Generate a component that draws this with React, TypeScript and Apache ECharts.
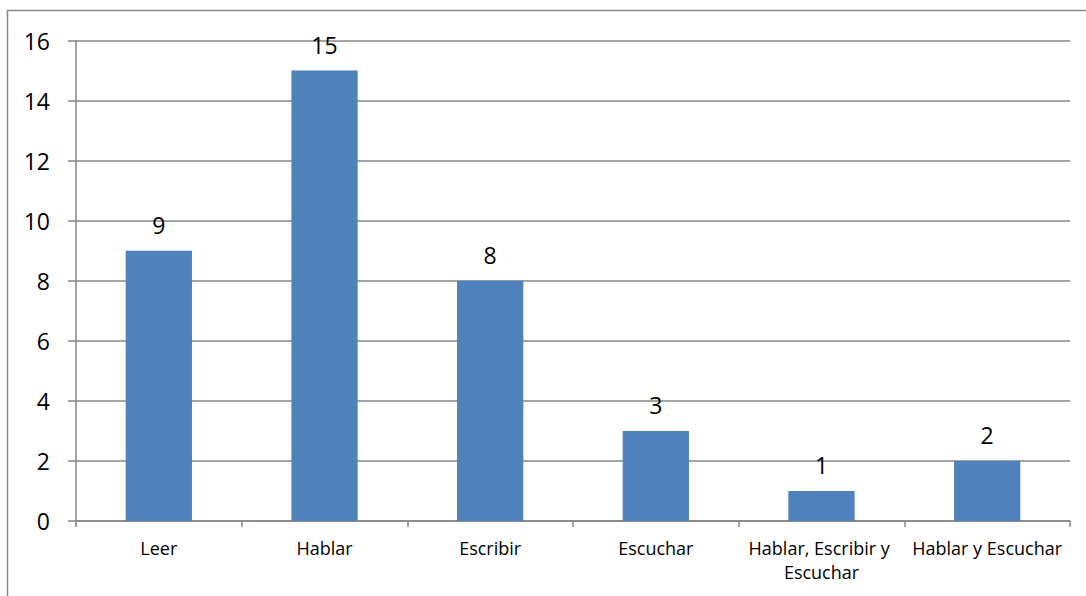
import React, { useEffect, useRef } from "react";
import * as echarts from "echarts";

const categories = ["Leer", "Hablar", "Escribir", "Escuchar", "Hablar, Escribir y Escuchar", "Hablar y Escuchar"];
const values = [9, 15, 8, 3, 1, 2];
const yTicks = { min: 0, max: 16, interval: 2 };

export default function App() {
  const ref = useRef<HTMLDivElement>(null);
  useEffect(() => {
    const chart = echarts.init(ref.current!, null, { renderer: "svg" });
    const gray = "#868686";
    chart.setOption({
      animation: false,
      backgroundColor: "#ffffff",
      textStyle: { fontFamily: "Open Sans" },
      graphic: [
        {
          type: "rect",
          shape: { x: 7.5, y: 10.5, width: 1200, height: 700 },
          style: { fill: "none", stroke: gray, lineWidth: 1.5 },
          silent: true,
        },
      ],
      grid: { left: 76, right: 16, top: 40.5, bottom: 75, containLabel: false },
      xAxis: {
        type: "category",
        data: categories,
        axisLine: { lineStyle: { color: gray, width: 1.5 } },
        axisTick: { show: true, length: 6, alignWithLabel: false, lineStyle: { color: gray, width: 1.5 } },
        axisLabel: {
          color: "#000",
          fontFamily: "Open Sans",
          fontSize: 18,
          lineHeight: 24,
          margin: 15,
          interval: 0,
          width: 162,
          overflow: "break",
        },
      },
      yAxis: {
        type: "value",
        min: yTicks.min,
        max: yTicks.max,
        interval: yTicks.interval,
        axisLine: { show: true, lineStyle: { color: gray, width: 1.5 } },
        axisTick: { show: true, length: 8, lineStyle: { color: gray, width: 1.5 } },
        splitLine: { show: true, lineStyle: { color: gray, width: 1.5 } },
        axisLabel: { color: "#000", fontFamily: "Open Sans", fontSize: 23, margin: 26 },
      },
      series: [
        {
          type: "bar",
          data: values,
          barWidth: "40%",
          itemStyle: { color: "#4F81BD" },
          label: {
            show: true,
            position: "top",
            distance: 14,
            color: "#000",
            fontFamily: "Open Sans",
            fontSize: 23,
          },
        },
      ],
    });
    return () => chart.dispose();
  }, []);
  return (
    <div
      ref={ref}
      style={{ position: "fixed", left: 0, top: 0, width: 1086, height: 596 }}
    />
  );
}
